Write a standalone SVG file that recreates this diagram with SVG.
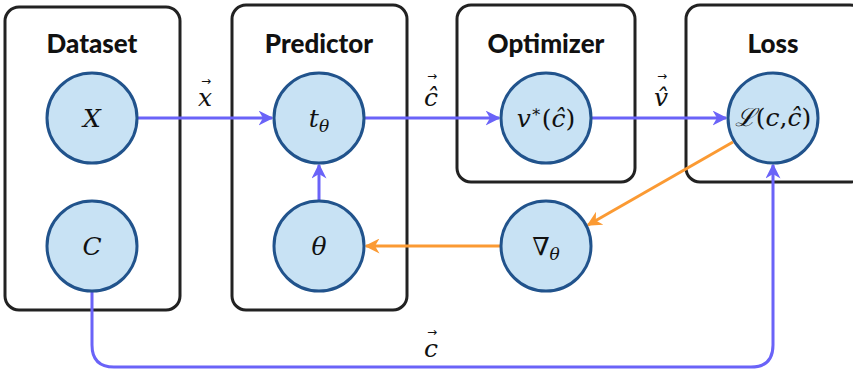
<svg xmlns="http://www.w3.org/2000/svg" width="853" height="372" viewBox="0 0 853 372">
<defs>
<style>
.box{fill:#fff;stroke:#222;stroke-width:3}
.title{font-family:Lato,"Liberation Sans",sans-serif;font-weight:900;font-size:26px;fill:#111;text-anchor:middle}
.node{fill:#c8e2f4;stroke:#21538c;stroke-width:3}
.math{font-family:"DejaVu Serif",serif;font-style:italic;font-size:25px;fill:#111;text-anchor:middle}
.up{font-style:normal}
.vec{font-family:"DejaVu Sans",sans-serif;font-size:12px;fill:#111;text-anchor:middle}
.blue{fill:none;stroke:#6a63f8;stroke-width:3}
.orange{fill:none;stroke:#fb9a33;stroke-width:3}
</style>
<marker id="ab" viewBox="0 0 10 10" refX="9" refY="5" markerWidth="5" markerHeight="5" orient="auto" markerUnits="strokeWidth">
<path d="M0,0 L10,5 L0,10 L3,5 Z" fill="#6a63f8"/>
</marker>
<marker id="ao" viewBox="0 0 10 10" refX="9" refY="5" markerWidth="5" markerHeight="5" orient="auto" markerUnits="strokeWidth">
<path d="M0,0 L10,5 L0,10 L3,5 Z" fill="#fb9a33"/>
</marker>
</defs>
<g id="dataset">
<rect class="box" x="5" y="7" width="175" height="303" rx="14"/>
<text class="title" x="92" y="53">Dataset</text>
</g>
<g id="predictor">
<rect class="box" x="232" y="5" width="175" height="305" rx="14"/>
<text class="title" x="319" y="53">Predictor</text>
</g>
<g id="optimizer">
<rect class="box" x="457" y="5" width="178" height="177" rx="14"/>
<text class="title" x="546" y="53">Optimizer</text>
</g>
<g id="loss">
<rect class="box" x="686" y="5" width="178" height="177" rx="14"/>
<text class="title" x="773" y="53">Loss</text>
</g>
<g id="connectors">
<path class="blue" d="M138,118 H272" marker-end="url(#ab)"/>
<path class="blue" d="M365,118 H499" marker-end="url(#ab)"/>
<path class="blue" d="M592,118 H726" marker-end="url(#ab)"/>
<path class="blue" d="M319,200 V165" marker-end="url(#ab)"/>
<path class="blue" d="M92,292 V345 Q92,367 114,367 H751 Q773,367 773,345 V165" marker-end="url(#ab)"/>
<path class="orange" d="M733,142 L588,225" marker-end="url(#ao)"/>
<path class="orange" d="M500,246 H366" marker-end="url(#ao)"/>
<text class="math" x="205" y="106">x</text>
<text class="vec" x="206" y="85">→</text>
<text class="math" x="431" y="106">ĉ</text>
<text class="vec" x="432" y="80">→</text>
<text class="math" x="661" y="106">v̂</text>
<text class="vec" x="662" y="80">→</text>
<text class="math" x="431" y="357">c</text>
<text class="vec" x="432" y="336">→</text>
</g>
<g id="node-X">
<circle class="node" cx="92" cy="118" r="45"/>
<text class="math" x="92" y="127">X</text>
</g>
<g id="node-C">
<circle class="node" cx="92" cy="246" r="45"/>
<text class="math" x="92" y="255">C</text>
</g>
<g id="node-t">
<circle class="node" cx="319" cy="118" r="45"/>
<text class="math" x="319" y="127">t<tspan font-size="17" dy="5">θ</tspan></text>
</g>
<g id="node-theta">
<circle class="node" cx="319" cy="246" r="45"/>
<text class="math" x="319" y="255">θ</text>
</g>
<g id="node-v">
<circle class="node" cx="546" cy="118" r="45"/>
<text class="math" x="546" y="127">v<tspan font-size="16" dy="-10" class="up">∗</tspan><tspan class="up" dy="10">(</tspan>ĉ<tspan class="up">)</tspan></text>
</g>
<g id="node-grad">
<circle class="node" cx="546" cy="246" r="45"/>
<text class="math" x="546" y="255"><tspan class="up">∇</tspan><tspan font-size="17" dy="5">θ</tspan></text>
</g>
<g id="node-L">
<circle class="node" cx="773" cy="118" r="45"/>
<text class="math" x="773" y="126" font-size="21">ℒ<tspan class="up">(</tspan>c<tspan class="up">,</tspan>ĉ<tspan class="up">)</tspan></text>
</g>
</svg>
